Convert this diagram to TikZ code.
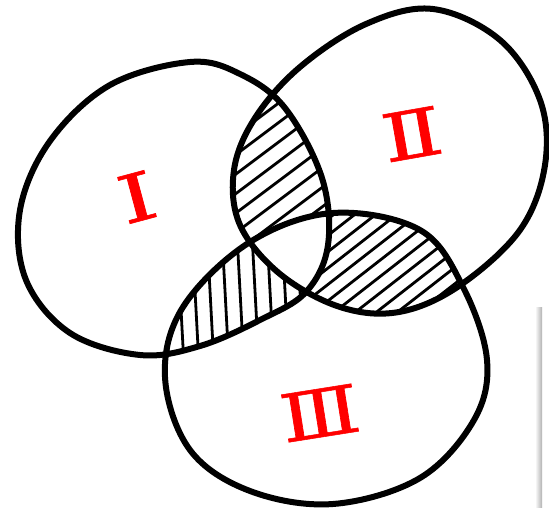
\documentclass[tikz,border=0pt]{standalone}
\usepackage{fontspec}
\newfontfamily\numfont[FakeBold=0.8]{DejaVu Serif}
\usetikzlibrary{calc}

% the three sets, in pixel coordinates of the sketch
\newcommand{\ovalI}{plot[smooth cycle, tension=0.6] coordinates {(190,62) (110,85) (50,141) (20,210) (26,280) (70,333) (140,355) (200,346) (260,320) (306,292) (328,245) (322,178) (285,108) (240,74)}}
\newcommand{\ovalII}{plot[smooth cycle, tension=0.6] coordinates {(300,67) (366,24) (433,9) (500,40) (540,100) (545,165) (520,230) (459,286) (399,312) (340,307) (280,274) (240,225) (234,170) (255,118)}}
\newcommand{\ovalIII}{plot[smooth cycle, tension=0.6] coordinates {(183,307) (250,242) (333,213) (420,230) (463,287) (487,360) (474,420) (420,478) (333,504) (250,491) (190,450) (165,377)}}

\tikzset{
  outline/.style={line width=6pt, line join=round},
  hatch/.style={line width=2.8pt},
  numeral/.style={text=red, font=\numfont\fontsize{66}{66}\selectfont, inner sep=0pt}
}

\begin{document}
\begin{tikzpicture}[x=1pt, y=-1pt]
\useasboundingbox (0,0) rectangle (549,508);

% I and II
\begin{scope}
  \clip \ovalI; \clip \ovalII;
  \foreach \x in {0,26,...,1300}
    \draw[hatch] (\x-800,600) -- (\x+400,-300);
  \fill[white] \ovalIII;
\end{scope}
% I and III
\begin{scope}
  \clip \ovalI; \clip \ovalIII;
  \foreach \x in {150,165,...,350}
    \draw[hatch] (\x-7,160) -- (\x+8,440);
  \fill[white] \ovalII;
\end{scope}
% II and III
\begin{scope}
  \clip \ovalII; \clip \ovalIII;
  \foreach \x in {0,21,...,1300}
    \draw[hatch] (\x-770,600) -- (\x+385,-300);
  \fill[white] \ovalI;
\end{scope}

\draw[outline] \ovalI;
\draw[outline] \ovalII;
\draw[outline] \ovalIII;

\node[numeral, rotate=15, xscale=1.45] (lblI)   at (137,197) {Ⅰ};
\node[numeral, rotate=10, xscale=1.35] (lblII)  at (412,134) {Ⅱ};
\node[numeral, rotate=9, xscale=1.25]  (lblIII) at (320,413) {Ⅲ};

% edge of the window at the right
\shade[left color=white, right color=black!30] (535,307) rectangle (542,508);
\end{tikzpicture}
\end{document}
